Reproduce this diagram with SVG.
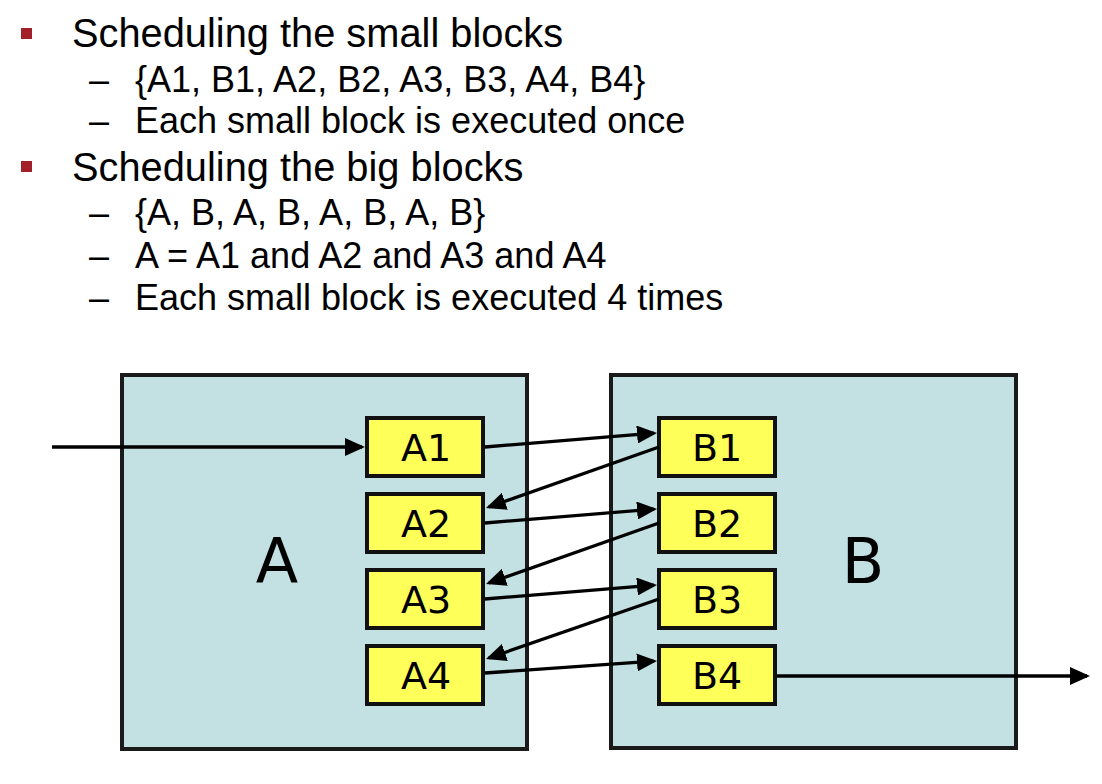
<svg xmlns="http://www.w3.org/2000/svg" width="1102" height="784" viewBox="0 0 1102 784">
<style>
.t1{font-family:"Liberation Sans",Arial,sans-serif;font-size:39.8px;fill:#000}
.t2{font-family:"Liberation Sans",Arial,sans-serif;font-size:36px;fill:#000}
.big{fill:#C3E0E2;stroke:#1a1a1a;stroke-width:4}
.small{fill:#FFFF59;stroke:#111;stroke-width:4}
.lbl{font-family:"DejaVu Sans",sans-serif;font-size:38px;fill:#000;text-anchor:middle}
.biglbl{font-family:"DejaVu Sans",sans-serif;font-size:62px;fill:#000;text-anchor:middle}
.conn{stroke:#000;stroke-width:3.3;fill:none;marker-end:url(#ah)}
.bullet{fill:#A3202A}
</style>
<defs>
<marker id="ah" viewBox="0 0 20 18" refX="17" refY="9" markerWidth="20" markerHeight="18" markerUnits="userSpaceOnUse" orient="auto">
<path d="M0,0 L20,9 L0,18 z" fill="#000"/>
</marker>
</defs>
<g id="text">
<rect class="bullet" x="21" y="28" width="11" height="11"/>
<text class="t1" x="72" y="47">Scheduling the small blocks</text>
<text class="t2" x="89" y="92">–</text>
<text class="t2" x="135" y="92">{A1, B1, A2, B2, A3, B3, A4, B4}</text>
<text class="t2" x="89" y="133">–</text>
<text class="t2" x="135" y="133">Each small block is executed once</text>
<rect class="bullet" x="21" y="161" width="11" height="11"/>
<text class="t1" x="72" y="181">Scheduling the big blocks</text>
<text class="t2" x="89" y="225">–</text>
<text class="t2" x="135" y="225">{A, B, A, B, A, B, A, B}</text>
<text class="t2" x="89" y="268">–</text>
<text class="t2" x="135" y="268">A = A1 and A2 and A3 and A4</text>
<text class="t2" x="89" y="310">–</text>
<text class="t2" x="135" y="310">Each small block is executed 4 times</text>
</g>
<g id="blockA">
<rect class="big" x="122" y="375" width="405" height="374"/>
<text class="biglbl" x="277" y="583">A</text>
</g>
<g id="blockB">
<rect class="big" x="611" y="375" width="405" height="373"/>
<text class="biglbl" x="863" y="583">B</text>
</g>
<g id="A1"><rect class="small" x="367" y="418" width="116" height="58"/><text class="lbl" x="426" y="461">A1</text></g>
<g id="A2"><rect class="small" x="367" y="494" width="116" height="58"/><text class="lbl" x="426" y="537">A2</text></g>
<g id="A3"><rect class="small" x="367" y="570" width="116" height="58"/><text class="lbl" x="426" y="613">A3</text></g>
<g id="A4"><rect class="small" x="367" y="646" width="116" height="58"/><text class="lbl" x="426" y="689">A4</text></g>
<g id="B1"><rect class="small" x="659" y="418" width="116" height="58"/><text class="lbl" x="717" y="461">B1</text></g>
<g id="B2"><rect class="small" x="659" y="494" width="116" height="58"/><text class="lbl" x="717" y="537">B2</text></g>
<g id="B3"><rect class="small" x="659" y="570" width="116" height="58"/><text class="lbl" x="717" y="613">B3</text></g>
<g id="B4"><rect class="small" x="659" y="646" width="116" height="58"/><text class="lbl" x="717" y="689">B4</text></g>
<g id="connectors">
<line class="conn" x1="52" y1="447" x2="362" y2="447"/>
<line class="conn" x1="485" y1="447" x2="654" y2="433.2"/>
<line class="conn" x1="659" y1="447" x2="488.8" y2="507"/>
<line class="conn" x1="485" y1="523" x2="654" y2="509.2"/>
<line class="conn" x1="659" y1="523" x2="488.8" y2="583"/>
<line class="conn" x1="485" y1="599" x2="654" y2="585.2"/>
<line class="conn" x1="659" y1="599" x2="488.8" y2="658"/>
<line class="conn" x1="485" y1="673" x2="654" y2="661.2"/>
<line class="conn" x1="777" y1="676" x2="1087" y2="676"/>
</g>
</svg>
